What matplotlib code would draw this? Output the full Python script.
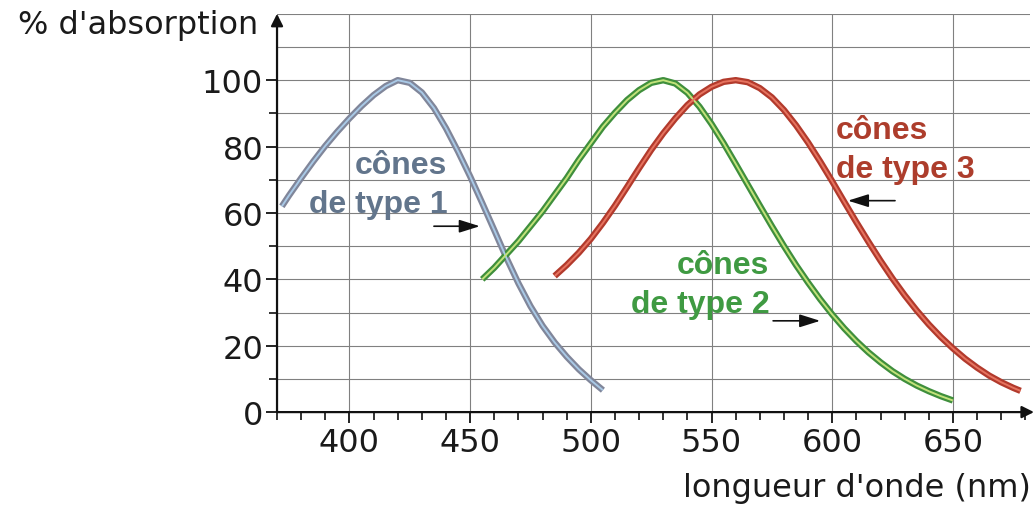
import numpy as np
import matplotlib
matplotlib.use("Agg")
from matplotlib import pyplot as plt

# absorption spectra of the three cone types
wl_1 = [372, 375, 380, 385, 390, 395, 400, 405, 410, 415, 420, 425, 430, 435, 440,
        445, 450, 455, 460, 465, 470, 475, 480, 485, 490, 495, 500, 505]
abs_1 = [62, 65.3, 70.5, 75.5, 80.2, 84.5, 88.5, 92.2, 95.5, 98.2, 100, 99.2, 96.3, 91.6, 85.5,
         78.5, 71, 63, 54.8, 46.5, 38.8, 31.9, 26, 21, 16.7, 12.9, 9.6, 6.6]

wl_2 = [455, 460, 465, 470, 475, 480, 485, 490, 495, 500, 505, 510, 515, 520, 525,
        530, 535, 540, 545, 550, 555, 560, 565, 570, 575, 580, 585, 590, 595, 600,
        605, 610, 615, 620, 625, 630, 635, 640, 645, 650]
abs_2 = [40, 43.5, 47.5, 51.5, 56, 60.5, 65.5, 70.5, 76, 81, 86, 90.2, 94, 97, 99.2,
         100, 99, 96.2, 92, 86.8, 81, 74.8, 68.5, 62.2, 56, 50, 44.3, 39, 34, 29.4,
         25.2, 21.4, 18, 15, 12.3, 10, 8, 6.3, 4.8, 3.5]

wl_3 = [485, 490, 495, 500, 505, 510, 515, 520, 525, 530, 535, 540, 545, 550, 555,
        560, 565, 570, 575, 580, 585, 590, 595, 600, 605, 610, 615, 620, 625, 630,
        635, 640, 645, 650, 655, 660, 665, 670, 675, 678]
abs_3 = [41, 44.3, 48, 52.2, 57, 62.2, 67.8, 73.5, 79, 84, 88.5, 92.5, 95.7, 98, 99.5,
         100, 99.4, 97.6, 94.8, 91, 86.4, 81.2, 75.5, 69.5, 63.3, 57.2, 51.3, 45.6, 40.2, 35.2,
         30.6, 26.4, 22.6, 19.2, 16.1, 13.4, 11, 9, 7.3, 6.4]

x_ticks = [400, 450, 500, 550, 600, 650]
y_ticks = [0, 20, 40, 60, 80, 100]

plt.rcParams['font.family'] = ['DejaVu Sans']

fig = plt.figure(figsize=(10.36, 5.10), dpi=100)
ax = fig.add_axes([0.2674, 0.190, 0.727, 0.781])
ax.set_xlim(370, 682)
ax.set_ylim(0, 120)

# grid
for yv in range(10, 121, 10):
    ax.axhline(yv, color='#808080', lw=0.8, zorder=1)
for xv in x_ticks:
    ax.axvline(xv, color='#808080', lw=0.8, zorder=1)

# curves: dark outline with a lighter core
curves = [
    (wl_1, abs_1, '#80869a', '#a9c9e6'),
    (wl_2, abs_2, '#3f8f3c', '#c2e27a'),
    (wl_3, abs_3, '#b23a2c', '#e6735f'),
]
for wl, ab, outer, inner in curves:
    ax.plot(wl, ab, color=outer, lw=4.6, solid_capstyle='butt', zorder=3)
    ax.plot(wl, ab, color=inner, lw=1.4, solid_capstyle='butt', zorder=4)

# labels of the curves
lab = dict(fontsize=23, fontweight='bold', family='Liberation Sans',
           va='center', linespacing=1.4, zorder=5)
ax.text(440.5, 68.5, "cônes\nde type 1", color='#62758c',
        ha='right', multialignment='right', **lab)
ax.text(574, 38.5, "cônes\nde type 2", color='#3f9a42',
        ha='right', multialignment='right', **lab)
ax.text(601.5, 79, "cônes\nde type 3", color='#ad3d2c',
        ha='left', multialignment='left', **lab)

arrow = dict(arrowstyle='-|>,head_length=0.7,head_width=0.22', color='#111111',
             lw=1.2, mutation_scale=18, shrinkA=0, shrinkB=0)
ax.annotate('', xy=(454, 56), xytext=(435, 56), arrowprops=arrow, zorder=6)
ax.annotate('', xy=(595, 27.5), xytext=(575.5, 27.5), arrowprops=arrow, zorder=6)
ax.annotate('', xy=(606.5, 63.7), xytext=(626, 63.7), arrowprops=arrow, zorder=6)

# axes with arrow heads
for s in ax.spines.values():
    s.set_visible(False)
ax.annotate('', xy=(0, 1.0), xytext=(0, 0), xycoords='axes fraction',
            arrowprops=dict(arrowstyle='-|>', color='#111111', lw=1.6,
                            mutation_scale=18, shrinkA=0, shrinkB=0), zorder=7)
ax.annotate('', xy=(1.005, 0), xytext=(0, 0), xycoords='axes fraction',
            arrowprops=dict(arrowstyle='-|>', color='#111111', lw=1.6,
                            mutation_scale=18, shrinkA=0, shrinkB=0), zorder=7)

ax.set_xticks(x_ticks)
ax.set_xticks(np.arange(370, 681, 10), minor=True)
ax.set_yticks(y_ticks)
ax.set_yticks(np.arange(10, 101, 20), minor=True)
ax.tick_params(axis='both', which='major', labelsize=23, length=8, width=1.3,
               color='#111111', labelcolor='#1a1a1a')
ax.tick_params(axis='both', which='minor', length=6, width=1.2, color='#111111')
ax.tick_params(axis='x', pad=3)
ax.tick_params(axis='y', pad=2)

fig.text(0.249, 0.950, "% d'absorption", fontsize=23, ha='right', va='center',
         color='#1a1a1a')
fig.text(0.995, 0.043, "longueur d'onde (nm)", fontsize=23, ha='right', va='center',
         color='#1a1a1a')

fig.savefig("out.png", dpi=100)
